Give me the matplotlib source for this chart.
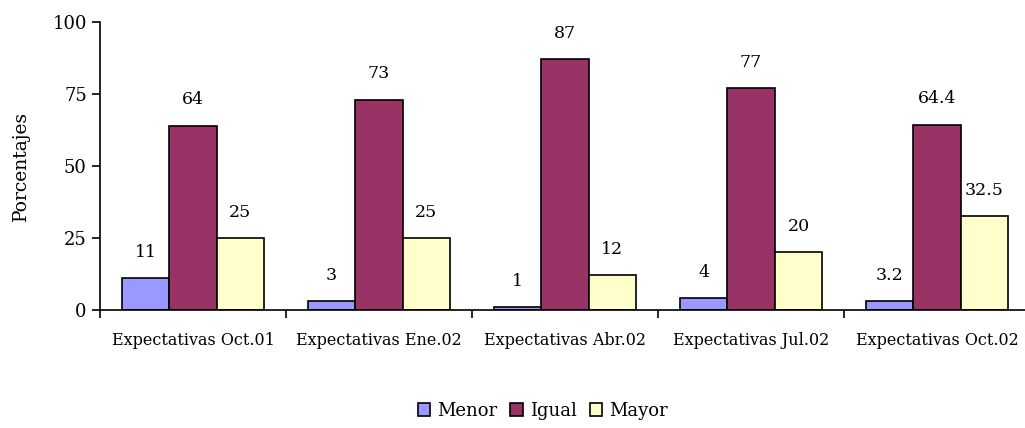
import numpy as np
import matplotlib.pyplot as plt

grupos = ["Expectativas Oct.01", "Expectativas Ene.02", "Expectativas Abr.02",
          "Expectativas Jul.02", "Expectativas Oct.02"]
menor = [11, 3, 1, 4, 3.2]
igual = [64, 73, 87, 77, 64.4]
mayor = [25, 25, 12, 20, 32.5]
series = [("Menor", menor, "#9999FF"), ("Igual", igual, "#993366"), ("Mayor", mayor, "#FFFFCC")]

plt.rcParams['font.family'] = ['DejaVu Serif']

fig = plt.figure(figsize=(10.25, 4.28), dpi=100)
ax = fig.add_axes([100/1025, 1 - 310/428, 930/1025, 288/428])

x = np.arange(len(grupos))
w = 0.255
for i, (nombre, vals, col) in enumerate(series):
    pos = x + (i - 1) * w
    ax.bar(pos, vals, w, color=col, edgecolor="black", linewidth=1.2, label=nombre)
    for p, v in zip(pos, vals):
        ax.text(p, v + 6, f"{v:g}", ha="center", va="bottom", fontsize=12.5)

ax.set_xlim(-0.5, len(grupos) - 0.5)
ax.set_ylim(0, 100)
ax.set_yticks([0, 25, 50, 75, 100])
ax.tick_params(axis="y", labelsize=13, direction="out", length=6, width=1.2)
ax.set_xticks(x)
ax.set_xticklabels(grupos, fontsize=11.5)
ax.tick_params(axis="x", length=0, pad=16)
ax.set_xticks(np.arange(len(grupos) + 1) - 0.5, minor=True)
ax.tick_params(axis="x", which="minor", length=6, width=1.2, direction="out")
ax.spines["top"].set_visible(False)
ax.spines["right"].set_visible(False)
ax.spines["left"].set_linewidth(1.2)
ax.spines["bottom"].set_linewidth(1.2)
ax.set_ylabel("Porcentajes", fontsize=13.5, labelpad=16)

fig.legend(loc="center", bbox_to_anchor=(543/1025, 1 - 411/428), ncol=3, frameon=False,
           fontsize=13, handlelength=0.7, handleheight=0.7, handletextpad=0.4, columnspacing=0.7)

fig.savefig("out.png", dpi=100)
